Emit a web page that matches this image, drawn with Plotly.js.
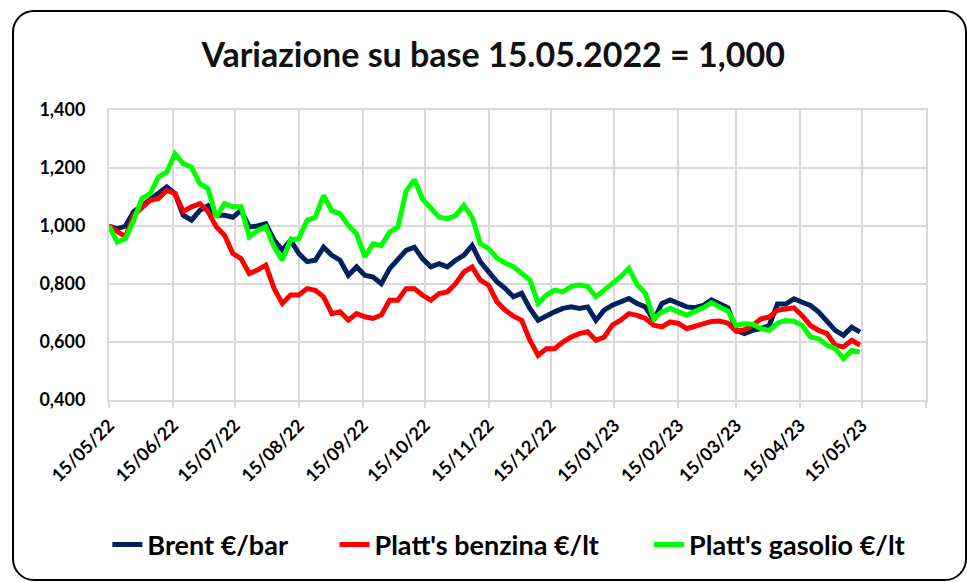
<!DOCTYPE html>
<html>
<head>
<meta charset="utf-8">
<script src="https://cdn.plot.ly/plotly-3.0.1.min.js"></script>
<style>
  html, body { margin: 0; padding: 0; background: #fff; }
  #wrap { position: relative; width: 967px; height: 582px; }
  #chart { position: absolute; left: 0; top: 0; width: 967px; height: 582px; }
  #frame { position: absolute; left: 12px; top: 10px; width: 951px; height: 567px;
           border: 2px solid #000; border-radius: 22px; pointer-events: none; }
</style>
</head>
<body>
<div id="wrap"><div id="chart"></div><div id="frame"></div></div>
<script>
const dates = [
 '2022-05-15','2022-05-19','2022-05-23','2022-05-27','2022-05-31','2022-06-04','2022-06-08','2022-06-12',
 '2022-06-16','2022-06-20','2022-06-24','2022-06-28','2022-07-02','2022-07-06','2022-07-10','2022-07-14',
 '2022-07-18','2022-07-22','2022-07-26','2022-07-30','2022-08-03','2022-08-07','2022-08-11','2022-08-15',
 '2022-08-19','2022-08-23','2022-08-27','2022-08-31','2022-09-04','2022-09-08','2022-09-12','2022-09-16',
 '2022-09-20','2022-09-24','2022-09-28','2022-10-02','2022-10-06','2022-10-10','2022-10-14','2022-10-18',
 '2022-10-22','2022-10-26','2022-10-30','2022-11-03','2022-11-07','2022-11-11','2022-11-15','2022-11-19',
 '2022-11-23','2022-11-27','2022-12-01','2022-12-05','2022-12-09','2022-12-13','2022-12-17','2022-12-21',
 '2022-12-25','2022-12-29','2023-01-02','2023-01-06','2023-01-10','2023-01-14','2023-01-18','2023-01-22',
 '2023-01-26','2023-01-30','2023-02-03','2023-02-07','2023-02-11','2023-02-15','2023-02-19','2023-02-23',
 '2023-02-27','2023-03-03','2023-03-07','2023-03-11','2023-03-15','2023-03-19','2023-03-23','2023-03-27',
 '2023-03-31','2023-04-04','2023-04-08','2023-04-12','2023-04-16','2023-04-20','2023-04-24','2023-04-28',
 '2023-05-02','2023-05-06','2023-05-10','2023-05-14'
];

const brent = [
 1.000,0.990,1.000,1.050,1.070,1.090,1.112,1.135,
 1.112,1.037,1.020,1.054,1.070,1.037,1.037,1.030,
 1.054,0.997,1.000,1.008,0.951,0.917,0.951,0.905,
 0.877,0.882,0.927,0.899,0.882,0.830,0.859,0.830,
 0.824,0.801,0.853,0.882,0.916,0.927,0.887,0.859,
 0.870,0.859,0.882,0.899,0.933,0.876,0.841,0.808,
 0.785,0.756,0.768,0.716,0.675,0.692,0.704,0.716,
 0.721,0.716,0.721,0.675,0.710,0.727,0.739,0.750,
 0.733,0.721,0.675,0.733,0.745,0.733,0.721,0.718,
 0.726,0.745,0.731,0.718,0.640,0.629,0.640,0.646,
 0.657,0.731,0.731,0.749,0.737,0.726,0.703,0.674,
 0.640,0.623,0.651,0.634
];

const benzina = [
 1.000,0.980,0.963,1.037,1.066,1.089,1.095,1.123,
 1.112,1.050,1.066,1.077,1.050,0.997,0.968,0.905,
 0.888,0.836,0.848,0.865,0.785,0.733,0.762,0.762,
 0.784,0.778,0.756,0.698,0.704,0.675,0.698,0.687,
 0.681,0.693,0.744,0.744,0.784,0.784,0.761,0.744,
 0.767,0.773,0.801,0.841,0.859,0.813,0.796,0.739,
 0.710,0.689,0.675,0.606,0.554,0.577,0.577,0.600,
 0.617,0.629,0.635,0.606,0.617,0.658,0.675,0.698,
 0.692,0.681,0.658,0.652,0.669,0.664,0.646,0.654,
 0.665,0.671,0.672,0.665,0.637,0.642,0.657,0.680,
 0.686,0.709,0.714,0.718,0.691,0.657,0.640,0.629,
 0.589,0.583,0.606,0.589
];

const gasolio = [
 1.000,0.945,0.957,1.020,1.095,1.112,1.169,1.186,
 1.249,1.215,1.203,1.146,1.129,1.030,1.077,1.066,
 1.066,0.963,0.985,0.997,0.928,0.882,0.951,0.957,
 1.020,1.030,1.105,1.053,1.042,1.002,0.973,0.893,
 0.939,0.933,0.979,0.996,1.120,1.160,1.093,1.059,
 1.030,1.025,1.036,1.071,1.030,0.939,0.922,0.890,
 0.872,0.860,0.837,0.814,0.733,0.762,0.779,0.773,
 0.791,0.797,0.791,0.756,0.779,0.802,0.825,0.854,
 0.797,0.768,0.681,0.704,0.716,0.704,0.692,0.706,
 0.718,0.735,0.718,0.706,0.657,0.663,0.661,0.646,
 0.640,0.665,0.674,0.672,0.657,0.617,0.611,0.589,
 0.577,0.543,0.571,0.566
];

const seriesNames = ["Brent €/bar", "Platt's benzina €/lt", "Platt's gasolio €/lt"];

const tickDates = ['2022-05-15','2022-06-15','2022-07-15','2022-08-15','2022-09-15','2022-10-15','2022-11-15',
  '2022-12-15','2023-01-15','2023-02-15','2023-03-15','2023-04-15','2023-05-15','2023-06-15'];
const tickLabels = ['15/05/22','15/06/22','15/07/22','15/08/22','15/09/22','15/10/22','15/11/22',
  '15/12/22','15/01/23','15/02/23','15/03/23','15/04/23','15/05/23',''];

const yTicks = [0.4, 0.6, 0.8, 1.0, 1.2, 1.4];

const FONT = 'Lato, "Open Sans", sans-serif';

const traces = [
  {x: dates, y: brent, name: seriesNames[0], type: 'scatter', mode: 'lines',
   line: {color: '#002060', width: 5}, legend: 'legend'},
  {x: dates, y: benzina, name: seriesNames[1], type: 'scatter', mode: 'lines',
   line: {color: '#FF0000', width: 5}, legend: 'legend2'},
  {x: dates, y: gasolio, name: seriesNames[2], type: 'scatter', mode: 'lines',
   line: {color: '#00FF00', width: 5}, legend: 'legend3'}
];

function legendAt(xPaper) {
  return {orientation: 'h', x: xPaper, xanchor: 'left', y: -0.5, yanchor: 'middle',
          font: {family: FONT, size: 27, weight: 'bold', color: '#000'},
          itemwidth: 30, bgcolor: 'rgba(0,0,0,0)', borderwidth: 0};
}

const layout = {
  width: 967, height: 582,
  margin: {l: 109, r: 41, t: 110, b: 182},
  paper_bgcolor: 'rgba(0,0,0,0)', plot_bgcolor: '#fff',
  separators: ',.',
  font: {family: FONT, color: '#000'},
  title: {text: 'Variazione su base 15.05.2022 = 1,000', x: 0.51, xanchor: 'center',
          y: 0.905, yanchor: 'middle',
          font: {family: FONT, size: 34, weight: 'bold', color: '#111'}},
  xaxis: {
    type: 'date', range: ['2022-05-15', '2023-06-15'],
    tickmode: 'array', tickvals: tickDates, ticktext: tickLabels,
    tickangle: -45, tickfont: {family: FONT, size: 18, weight: 'bold', color: '#000'},
    showgrid: true, gridcolor: '#d9d9d9', gridwidth: 2,
    ticks: 'outside', ticklen: 6, tickcolor: '#d9d9d9', tickwidth: 2,
    showline: true, linecolor: '#d9d9d9', linewidth: 2, mirror: true,
    zeroline: false, automargin: false, fixedrange: true
  },
  yaxis: {
    range: [0.4, 1.4], tickmode: 'array', tickvals: yTicks, tickformat: '.3f',
    tickfont: {family: FONT, size: 18, weight: 'bold', color: '#000'},
    showgrid: true, gridcolor: '#d9d9d9', gridwidth: 2,
    showline: true, linecolor: '#d9d9d9', linewidth: 2, mirror: true,
    ticks: '', ticklabelstandoff: 18,
    zeroline: false, automargin: false, fixedrange: true
  },
  showlegend: true,
  legend: legendAt(-0.002),
  legend2: legendAt(0.276),
  legend3: legendAt(0.661)
};

Plotly.newPlot('chart', traces, layout, {displayModeBar: false, staticPlot: true});
</script>
</body>
</html>
